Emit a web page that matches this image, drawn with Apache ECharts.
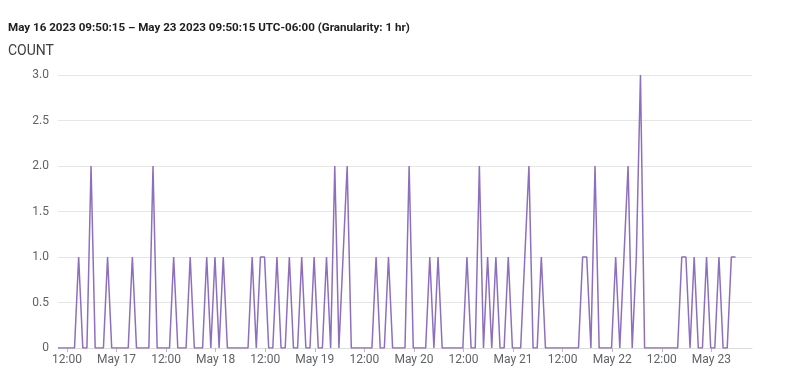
<!DOCTYPE html>
<html>
<head>
<meta charset="utf-8">
<script src="https://cdn.jsdelivr.net/npm/echarts@6/dist/echarts.min.js"></script>
<style>
html,body{margin:0;padding:0;background:#fff;}
#c{width:800px;height:392px;}
</style>
</head>
<body>
<div id="c"></div>
<script>
// Hourly buckets starting May 16 2023 09:50:15 (hour index from start)
const titleText = 'May 16 2023 09:50:15 \u2013 May 23 2023 09:50:15 UTC-06:00 (Granularity: 1 hr)';
const yAxisName = 'COUNT';
const rangeHours = 168;
const counts = [
  0,0,0,0,0,1,0,0,2,0, 0,0,1,0,0,0,0,0,1,0,
  0,0,0,2,0,0,0,0,1,0, 0,0,1,0,0,0,1,0,1,0,
  1,0,0,0,0,0,0,1,0,1, 1,0,0,1,0,0,1,0,0,1,
  0,0,1,0,0,1,0,2,0,1, 2,0,0,0,0,0,0,1,0,0,
  1,0,0,0,0,2,0,0,0,0, 1,0,1,0,0,0,0,0,0,1,
  0,0,2,0,1,0,1,0,0,1, 0,0,0,1,2,0,0,1,0,0,
  0,0,0,0,0,0,0,1,1,0, 2,0,0,0,0,1,0,1,2,0,
  1,3,0,0,0,0,0,0,0,0, 0,1,1,0,1,0,0,1,0,0,
  1,0,0,1,1
];
// tick positions (hours since start) and their labels
const tickHours = [2.1625,14.1625,26.1625,38.1625,50.1625,62.1625,74.1625,86.1625,98.1625,110.1625,122.1625,134.1625,146.1625,158.1625];
const tickLabels = ['12:00','May 17','12:00','May 18','12:00','May 19','12:00','May 20','12:00','May 21','12:00','May 22','12:00','May 23'];

const seriesData = counts.map((v, i) => [i, v]);
const chart = echarts.init(document.getElementById('c'));
chart.setOption({
  animation: false,
  textStyle: {fontFamily: 'Roboto'},
  title: [
    {text: titleText, left: 8, top: 22, padding: 0, textStyle: {fontSize: 11.6, fontWeight: 'bold', color: '#202124', fontFamily: 'Roboto'}},
    {text: yAxisName, left: 8, top: 44, padding: 0, textStyle: {fontSize: 14, fontWeight: 'normal', color: '#3c4043', fontFamily: 'Roboto'}}
  ],
  grid: {left: 58, right: 48, top: 75, bottom: 44},
  xAxis: {
    type: 'value', min: 0, max: rangeHours,
    splitLine: {show: false},
    axisLine: {show: true, lineStyle: {color: '#dadce0'}},
    axisTick: {show: true, customValues: tickHours, length: 4, lineStyle: {color: '#bdbdbd'}},
    axisLabel: {
      customValues: tickHours, color: '#5f6368', fontSize: 12, margin: 6,
      formatter: (v) => { const k = tickHours.findIndex(t => Math.abs(t - v) < 1e-6); return k >= 0 ? tickLabels[k] : ''; }
    }
  },
  yAxis: {
    type: 'value', min: 0, max: 3, interval: 0.5,
    axisLine: {show: false}, axisTick: {show: false},
    splitLine: {lineStyle: {color: '#e6e6e6'}},
    axisLabel: {color: '#5f6368', fontSize: 12, margin: 9, formatter: (v) => v === 0 ? '0' : v.toFixed(1)}
  },
  series: [{
    type: 'line', data: seriesData, showSymbol: false,
    lineStyle: {color: '#8e6fbd', width: 1.5},
    itemStyle: {color: '#8e6fbd'}
  }]
});
</script>
</body>
</html>
